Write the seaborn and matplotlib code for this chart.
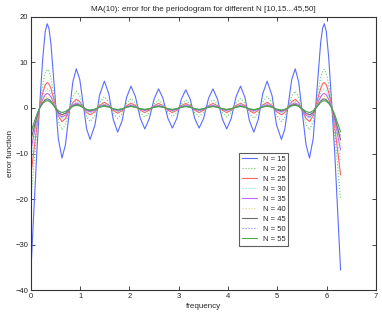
import numpy as np
import matplotlib
matplotlib.use("Agg")
import matplotlib.pyplot as plt
import seaborn as sns

# frequencies for the first half (0..pi); the curves are mirrored about pi
freq_half = [0.0, 0.06, 0.12, 0.18, 0.24, 0.29, 0.33, 0.365,
             0.405, 0.48, 0.555, 0.63,
             0.70, 0.775, 0.85, 0.92,
             0.99, 1.06, 1.13, 1.20,
             1.30, 1.39, 1.49,
             1.58, 1.67, 1.76,
             1.85, 1.94, 2.03,
             2.12, 2.22, 2.31,
             2.40, 2.50, 2.59,
             2.68, 2.78, 2.87,
             2.96, 3.05, 3.1416]

n_labels = ["N = 15", "N = 20", "N = 25", "N = 30", "N = 35",
            "N = 40", "N = 45", "N = 50", "N = 55"]

err_15 = [-35.6, -22.5, -9.5, 1.0, 11.0, 16.8, 18.5, 17.5,
          14.2, 3.8, -6.7, -11.0,
          -8.1, -1.2, 5.7, 8.6,
          6.3, 0.9, -4.6, -6.9,
          -3.7, 2.7, 5.9,
          3.1, -2.5, -5.3,
          -2.8, 2.3, 4.8,
          2.5, -2.3, -4.6,
          -2.4, 2.0, 4.2,
          2.1, -2.3, -4.4,
          -2.3, 1.9, 4.0]
err_20 = [-20.0, -12.6, -5.4, 0.4, 5.1, 7.7, 8.5, 8.05,
          6.6, 1.85, -2.9, -4.8,
          -3.6, -0.55, 2.5, 3.7,
          2.7, 0.35, -2.0, -3.0,
          -1.6, 1.1, 2.5,
          1.3, -1.1, -2.3,
          -1.2, 1.0, 2.1,
          1.1, -1.0, -2.0,
          -1.05, 0.85, 1.8,
          0.9, -1.0, -1.9,
          -1.0, 0.8, 1.75]
err_25 = [-14.7, -9.3, -4.0, 0.3, 3.4, 5.1, 5.6, 5.3,
          4.3, 1.3, -1.7, -3.0,
          -2.3, -0.55, 1.2, 1.9,
          1.4, 0.2, -1.0, -1.5,
          -0.8, 0.55, 1.25,
          0.65, -0.55, -1.15,
          -0.6, 0.5, 1.05,
          0.55, -0.5, -1.0,
          -0.5, 0.5, 1.0,
          0.5, -0.5, -1.0,
          -0.5, 0.5, 1.0]
err_30 = [-11.5, -7.2, -3.1, 0.2, 2.5, 3.8, 4.2, 4.0,
          3.2, 0.9, -1.4, -2.4,
          -1.8, -0.5, 0.9, 1.45,
          1.1, 0.2, -0.7, -1.1,
          -0.6, 0.4, 0.9,
          0.45, -0.4, -0.85,
          -0.45, 0.4, 0.8,
          0.4, -0.35, -0.75,
          -0.4, 0.4, 0.75,
          0.4, -0.4, -0.75,
          -0.4, 0.4, 0.75]
err_35 = [-9.2, -5.8, -2.5, 0.15, 1.9, 2.9, 3.2, 3.0,
          2.45, 0.6, -1.25, -2.0,
          -1.55, -0.45, 0.65, 1.1,
          0.8, 0.1, -0.55, -0.85,
          -0.45, 0.3, 0.7,
          0.35, -0.3, -0.65,
          -0.35, 0.3, 0.6,
          0.3, -0.25, -0.55,
          -0.3, 0.3, 0.55,
          0.3, -0.3, -0.55,
          -0.3, 0.3, 0.55]
err_40 = [-8.0, -5.0, -2.2, 0.1, 1.5, 2.3, 2.5, 2.35,
          1.9, 0.4, -1.1, -1.7,
          -1.3, -0.4, 0.5, 0.9,
          0.65, 0.1, -0.45, -0.7,
          -0.35, 0.3, 0.6,
          0.3, -0.25, -0.55,
          -0.3, 0.25, 0.5,
          0.25, -0.25, -0.48,
          -0.25, 0.23, 0.47,
          0.24, -0.24, -0.47,
          -0.24, 0.24, 0.47]
err_45 = [-7.0, -4.4, -1.9, 0.1, 1.2, 1.8, 2.0, 1.9,
          1.5, 0.25, -1.0, -1.5,
          -1.15, -0.35, 0.45, 0.8,
          0.6, 0.1, -0.4, -0.6,
          -0.35, 0.25, 0.5,
          0.25, -0.2, -0.45,
          -0.25, 0.2, 0.42,
          0.2, -0.2, -0.4,
          -0.2, 0.2, 0.4,
          0.2, -0.2, -0.4,
          -0.2, 0.2, 0.4]
err_50 = [-6.0, -3.8, -1.6, 0.1, 1.1, 1.65, 1.8, 1.7,
          1.35, 0.3, -0.75, -1.2,
          -0.9, -0.25, 0.4, 0.7,
          0.5, 0.1, -0.3, -0.5,
          -0.25, 0.2, 0.45,
          0.25, -0.2, -0.4,
          -0.2, 0.18, 0.37,
          0.18, -0.18, -0.35,
          -0.18, 0.18, 0.35,
          0.18, -0.18, -0.35,
          -0.18, 0.18, 0.35]
err_55 = [-5.2, -3.3, -1.4, 0.08, 1.0, 1.45, 1.6, 1.5,
          1.2, 0.3, -0.6, -1.0,
          -0.75, -0.2, 0.35, 0.6,
          0.45, 0.08, -0.3, -0.45,
          -0.25, 0.17, 0.38,
          0.2, -0.17, -0.35,
          -0.18, 0.15, 0.32,
          0.17, -0.15, -0.3,
          -0.15, 0.15, 0.3,
          0.15, -0.15, -0.3,
          -0.15, 0.15, 0.3]

all_err = [err_15, err_20, err_25, err_30, err_35, err_40, err_45, err_50, err_55]

# matlab-ish line specs: b, g:, r, c:, m, y:, k, b:, g
colors = ["#5a6cff", "#66cc66", "#ff6060", "#70dede", "#bb66ff",
          "#dddd70", "#6a6a6a", "#8080ff", "#4aaa4a"]
styles = ["-", ":", "-", ":", "-", ":", "-", ":", "-"]

sns.set_style("ticks")
plt.rcParams["font.family"] = ["Liberation Sans", "DejaVu Sans"]
plt.rcParams["xtick.direction"] = "in"
plt.rcParams["ytick.direction"] = "in"

fig = plt.figure(figsize=(3.82, 3.13), dpi=100)
ax = fig.add_axes([0.081, 0.073, 0.903, 0.873])

fh = np.array(freq_half)
freq = np.concatenate([fh, 2 * np.pi - fh[-2::-1]])

for lab, e, c, ls in zip(n_labels, all_err, colors, styles):
    e = np.array(e)
    full = np.concatenate([e, e[-2::-1]])
    sns.lineplot(x=freq, y=full, color=c, linestyle=ls, linewidth=0.8,
                 label=lab, ax=ax, estimator=None, sort=False)

ax.set_xlim(0, 7)
ax.set_ylim(-40, 20)
ax.set_xticks(range(0, 8))
ax.set_yticks(range(-40, 21, 10))
ax.tick_params(axis="both", labelsize=5.5, length=3, width=0.6,
               top=True, right=True, pad=2)
for sp in ax.spines.values():
    sp.set_linewidth(0.8)
    sp.set_color("#333333")

ax.set_title("MA(10): error for the periodogram for different N [10,15...45,50]",
             fontsize=5.8, pad=4)
ax.set_xlabel("frequency", fontsize=5.8, labelpad=2)
ax.set_ylabel("error function", fontsize=5.8, labelpad=1)

leg = ax.legend(loc="lower left", bbox_to_anchor=(0.603, 0.161), fontsize=5.5,
                frameon=True, fancybox=False, edgecolor="#333333",
                handlelength=2.0, handletextpad=0.7, labelspacing=0.35,
                borderpad=0.4, borderaxespad=0)
leg.get_frame().set_linewidth(0.8)

fig.savefig("out.png", dpi=100)
